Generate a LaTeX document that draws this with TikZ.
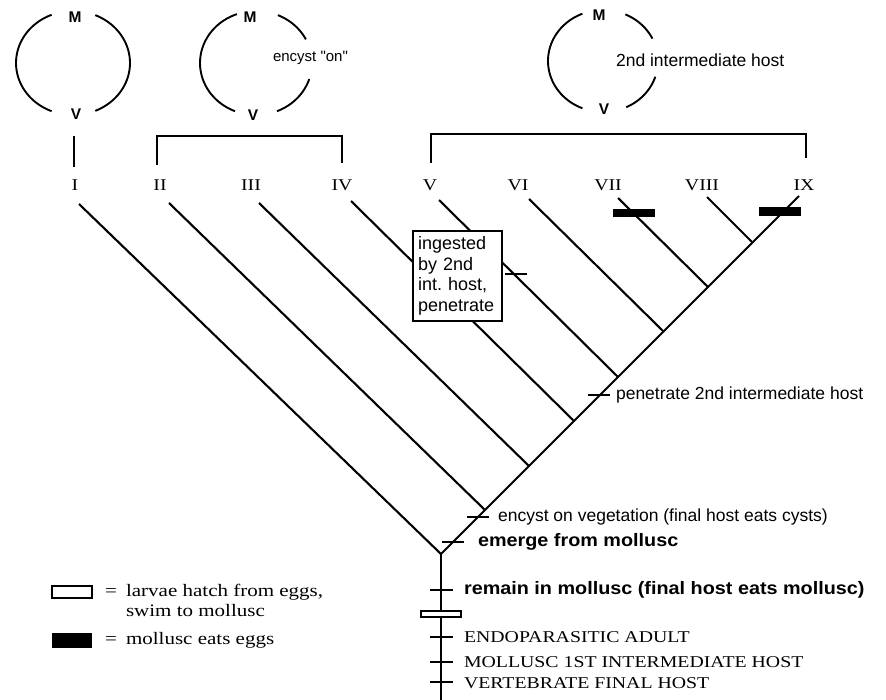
\documentclass[tikz,border=0pt]{standalone}
\usepackage{fontspec}
\setmainfont{Liberation Serif}
\newfontfamily\hv{Liberation Sans}
\newfontfamily\hvb[FakeStretch=1.1]{Liberation Sans}
\newfontfamily\bk[FakeStretch=1.2]{Liberation Serif}
\frenchspacing
\begin{document}
\begin{tikzpicture}[x=1pt,y=-1pt, line width=2.1pt,
  lbl/.style={font=\hv\fontsize{17.5}{20}\selectfont, anchor=west, inner sep=0pt},
  blbl/.style={font=\hvb\bfseries\fontsize{18}{20}\selectfont, anchor=west, inner sep=0pt},
  capl/.style={font=\bk\fontsize{16.5}{20}\selectfont, anchor=west, inner sep=0pt},
  num/.style={font=\bk\fontsize{16.5}{20}\selectfont, inner sep=0pt},
  mv/.style={font=\hv\bfseries\fontsize{15.5}{17}\selectfont, inner sep=0pt},
  leg/.style={font=\bk\fontsize{17.5}{20.5}\selectfont, anchor=west, inner sep=0pt},
  tickm/.style={line width=1.8pt},
  brk/.style={line width=1.6pt},
  arcl/.style={line width=1.9pt},
  ]
\useasboundingbox (0,0) rectangle (886,700);

% ---------- cycles ----------
\draw[arcl] plot[domain=112:248, samples=40, smooth] ({73+57*cos(\x)},{63-52*sin(\x)});
\draw[arcl] plot[domain=-67:67, samples=40, smooth] ({73+57*cos(\x)},{63-52*sin(\x)});
\node[mv] (m1) at (75,17) {M};
\node[mv] (v1) at (76,114) {V};

\draw[arcl] plot[domain=110:248, samples=40, smooth] ({256+56*cos(\x)},{63-52*sin(\x)});
\draw[arcl] plot[domain=27:67, samples=20, smooth] ({256+56*cos(\x)},{63-52*sin(\x)});
\draw[arcl] plot[domain=-68:-18, samples=20, smooth] ({256+56*cos(\x)},{63-52*sin(\x)});
\node[mv] (m2) at (250,17) {M};
\node[mv] (v2) at (253,115) {V};
\node[lbl, font=\hv\fontsize{15}{18}\selectfont] (enc) at (272,58) {encyst "on"};

\draw[arcl] plot[domain=112:248, samples=40, smooth] ({603+55*cos(\x)},{61-51*sin(\x)});
\draw[arcl] plot[domain=26:66, samples=20, smooth] ({603+55*cos(\x)},{61-51*sin(\x)});
\draw[arcl] plot[domain=-65:-18, samples=20, smooth] ({603+55*cos(\x)},{61-51*sin(\x)});
\node[mv] (m3) at (599,15) {M};
\node[mv] (v3) at (604,109) {V};
\node[lbl] (sih) at (615,60) {2nd intermediate host};

% ---------- brackets ----------
\coordinate (b1a) at (74,136); \coordinate (b1b) at (74,167);
\draw[line width=2.2pt] (b1a) -- (b1b);
\coordinate (b2a) at (157,165); \coordinate (b2b) at (342,163);
\draw[brk] (b2a) -- (157,136) -- (342,136) -- (b2b);
\coordinate (b3a) at (431,163); \coordinate (b3b) at (806,158);
\draw[brk] (b3a) -- (431,134) -- (806,134) -- (b3b);

% ---------- numerals ----------
\node[num] (nI)    at (75,185)  {I};
\node[num] (nII)   at (160,185) {II};
\node[num] (nIII)  at (251,185) {III};
\node[num] (nIV)   at (342,185) {IV};
\node[num] (nV)    at (430,185) {V};
\node[num] (nVI)   at (518,185) {VI};
\node[num] (nVII)  at (608,185) {VII};
\node[num] (nVIII) at (702,185) {VIII};
\node[num] (nIX)   at (804,185) {IX};

% ---------- tree ----------
\coordinate (R)  at (441,554);
\coordinate (t1) at (79,204);
\coordinate (t2) at (169,203);
\coordinate (t3) at (259,203);
\coordinate (t4) at (351,201);
\coordinate (t5) at (439,200);
\coordinate (t6) at (529,199);
\coordinate (t7) at (618,198);
\coordinate (t8) at (707,197);
\coordinate (t9) at (799,196);
\coordinate (j1) at (485,510);
\coordinate (j2) at (529,466);
\coordinate (j3) at (574,421);
\coordinate (j4) at (618,377);
\coordinate (j5) at (663,331);
\coordinate (j6) at (708,287);
\coordinate (j7) at (752,242);
\coordinate (bot) at (441,700);

\draw (t1) -- (R) -- (t9);
\draw (t2) -- (j1);
\draw (t3) -- (j2);
\draw (t4) -- (j3);
\draw (t5) -- (j4);
\draw (t6) -- (j5);
\draw (t7) -- (j6);
\draw (t8) -- (j7);
\draw (R) -- (bot);

% egg bars
\fill (613,209) rectangle (655,217);
\fill (759,207) rectangle (801,216);
\draw[line width=1.6pt, fill=white] (421,611) rectangle (461,617);

% box
\node[draw, fill=white, line width=1.7pt, align=left, text width=79pt,
      inner xsep=5pt, inner ysep=3pt, minimum height=90pt,
      font=\hv\fontsize{18}{20.5}\selectfont] (box) at (457.5,276)
      {ingested\\by 2nd\\int. host,\\penetrate};

% ticks
\coordinate (k0) at (516,274);
\draw[tickm] ([xshift=-11pt]k0) -- ([xshift=11pt]k0);
\coordinate (k1) at (599,395);
\draw[tickm] ([xshift=-11pt]k1) -- ([xshift=11pt]k1);
\coordinate (k2) at (478,517);
\draw[tickm] ([xshift=-11pt]k2) -- ([xshift=11pt]k2);
\coordinate (k3) at (453,542);
\draw[tickm] ([xshift=-11pt]k3) -- ([xshift=11pt]k3);
\foreach \yy/\nm in {590/s1,637/s2,662/s3,682/s4}{
  \coordinate (\nm) at (441,\yy);
  \draw[tickm] ([xshift=-11.5pt]\nm) -- ([xshift=11.5pt]\nm);
}

% labels
\node[lbl] (pen) at (615,395) {penetrate 2nd intermediate host};
\node[lbl] (ecv) at (497,517) {encyst on vegetation (final host eats cysts)};
\node[blbl] (emg) at (477,542) {emerge from mollusc};
\node[blbl] (rem) at (463,590) {remain in mollusc (final host eats mollusc)};
\node[capl] (endo) at (463,637) {ENDOPARASITIC ADULT};
\node[capl] (mol) at (463,662) {MOLLUSC 1ST INTERMEDIATE HOST};
\node[capl] (vert) at (463,683) {VERTEBRATE FINAL HOST};

% legend
\draw[line width=1.5pt] (52,586) rectangle (92,598);
\node[leg] (eq1) at (104,592) {=};
\node[leg] (lg1) at (125,592) {larvae hatch from eggs,};
\node[leg] (lg2) at (125,611) {swim to mollusc};
\fill (52,633) rectangle (92,648);
\node[leg] (eq2) at (104,640) {=};
\node[leg] (lg3) at (125,640) {mollusc eats eggs};
\end{tikzpicture}
\end{document}
